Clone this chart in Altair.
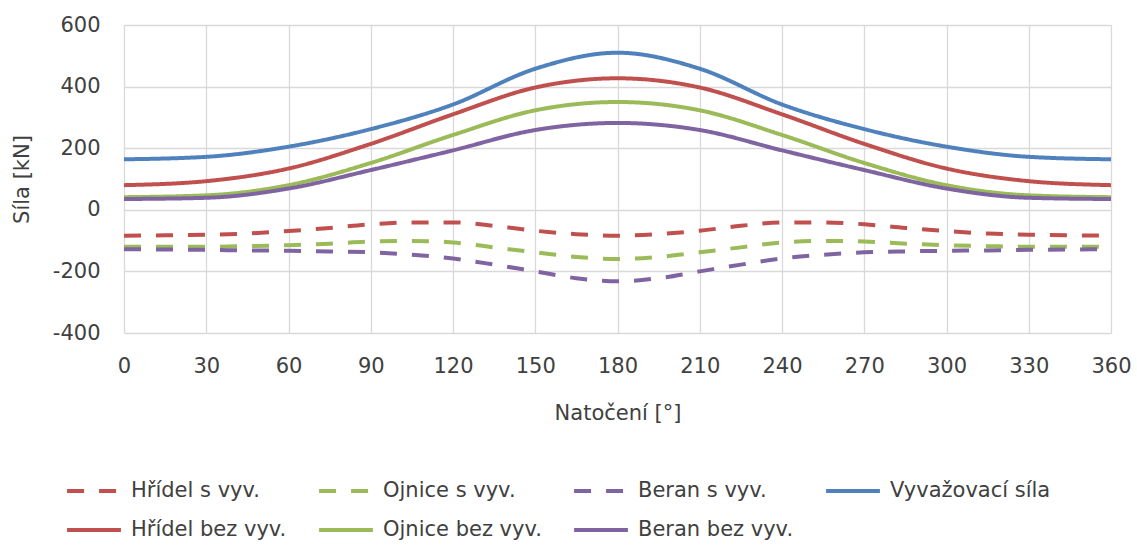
import altair as alt
import pandas as pd

# ---- data ----
angles_dashed = list(range(0, 361, 15))
angles_solid = list(range(0, 361, 30))

hridel_s = [-84, -83, -81, -77, -69, -59, -47, -41, -41, -52, -68, -79, -84,
            -79, -68, -52, -41, -41, -47, -59, -69, -77, -81, -83, -84]
ojnice_s = [-120, -120, -120, -118, -115, -110, -103, -101, -106, -122, -138, -153, -160,
            -153, -138, -122, -106, -101, -103, -110, -115, -118, -120, -120, -120]
beran_s = [-128, -129, -130, -132, -133, -135, -138, -146, -158, -178, -200, -222, -232,
           -222, -200, -178, -158, -146, -138, -135, -133, -132, -130, -129, -128]

vyvazovaci = [164, 172, 205, 262, 342, 458, 510, 458, 342, 262, 205, 172, 164]
hridel_bez = [80, 93, 134, 214, 310, 397, 427, 397, 310, 214, 134, 93, 80]
ojnice_bez = [41, 47, 80, 152, 243, 323, 350, 323, 243, 152, 80, 47, 41]
beran_bez = [35, 39, 69, 129, 193, 259, 282, 259, 193, 129, 69, 39, 35]

names = ["Hřídel s vyv.", "Ojnice s vyv.", "Beran s vyv.", "Vyvažovací síla",
         "Hřídel bez vyv.", "Ojnice bez vyv.", "Beran bez vyv."]
colors = ["#C0504D", "#9BBB59", "#8064A2", "#4F81BD", "#C0504D", "#9BBB59", "#8064A2"]
dashes = [[17, 15], [17, 15], [17, 15], [1, 0], [1, 0], [1, 0], [1, 0]]
widths = [4, 4, 4, 2.2, 2.2, 2.2, 2.2]

x_ticks = list(range(0, 361, 30))
y_ticks = [-400, -200, 0, 200, 400, 600]

rows = []
for name, vals in [(names[0], hridel_s), (names[1], ojnice_s), (names[2], beran_s)]:
    for a, v in zip(angles_dashed, vals):
        rows.append({"series": name, "angle": a, "value": v})
for name, vals in [(names[3], vyvazovaci), (names[4], hridel_bez),
                   (names[5], ojnice_bez), (names[6], beran_bez)]:
    for a, v in zip(angles_solid, vals):
        rows.append({"series": name, "angle": a, "value": v})
df = pd.DataFrame(rows)

FONT = "DejaVu Sans"
TXT = "#404040"

chart = alt.Chart(df).mark_line(interpolate="monotone").encode(
    x=alt.X("angle:Q",
            scale=alt.Scale(domain=[0, 360], nice=False, zero=False),
            axis=alt.Axis(values=x_ticks, title="Natočení [°]", grid=True,
                          domain=False, ticks=False, labelPadding=22,
                          labelFontSize=21, titleFontSize=21,
                          labelFlush=False, titleY=86, titleBaseline="alphabetic")),
    y=alt.Y("value:Q",
            scale=alt.Scale(domain=[-400, 600], nice=False, zero=False),
            axis=alt.Axis(values=y_ticks, title="Síla [kN]", grid=True,
                          domain=False, ticks=False, labelPadding=24,
                          labelFontSize=21, titleFontSize=21,
                          labelExpr="'' + datum.value",
                          titleX=-92, titleY=154, titleAngle=-90,
                          titleAlign="center", titleBaseline="bottom")),
    color=alt.Color("series:N", scale=alt.Scale(domain=names, range=colors),
                    legend=alt.Legend(title=None)),
    strokeDash=alt.StrokeDash("series:N", scale=alt.Scale(domain=names, range=dashes),
                              legend=alt.Legend(title=None)),
    strokeWidth=alt.StrokeWidth("series:N", scale=alt.Scale(domain=names, range=widths),
                                legend=None),
    order=alt.Order("angle:Q"),
).properties(
    width=987,
    height=308,
    autosize=alt.AutoSizeParams(type="none"),
    padding={"left": 124, "top": 25, "right": 26, "bottom": 214},
).configure_view(
    stroke=None
).configure_axis(
    gridColor="#D9D9D9",
    gridWidth=1.3,
    labelColor=TXT,
    titleColor=TXT,
    labelFont=FONT,
    titleFont=FONT,
    titleFontWeight="normal",
).configure_legend(
    orient="none",
    legendX=-59,
    legendY=437,
    direction="horizontal",
    columns=4,
    symbolType="stroke",
    symbolSize=2900,
    symbolStrokeWidth=3.5,
    labelFontSize=21,
    labelFont=FONT,
    labelColor=TXT,
    labelOffset=8,
    labelLimit=400,
    columnPadding=24,
    rowPadding=-11,
    padding=0,
)

chart.save("out.html", embed_options={"renderer": "svg", "actions": False})
